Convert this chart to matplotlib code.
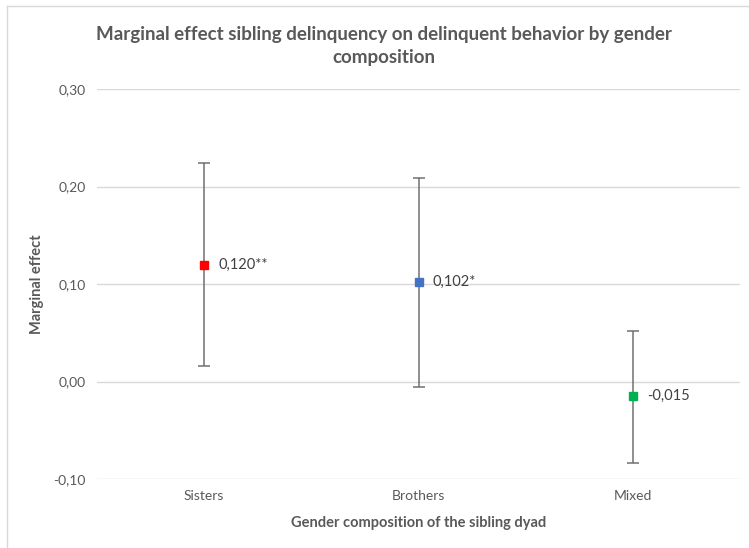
import matplotlib
matplotlib.use("Agg")
import matplotlib.pyplot as plt
from matplotlib.lines import Line2D

categories = ["Sisters", "Brothers", "Mixed"]
effects = [0.120, 0.102, -0.015]
ci_low = [0.016, -0.006, -0.084]
ci_high = [0.224, 0.209, 0.052]
labels = ["0,120**", "0,102*", "-0,015"]
colors = ["#FF0000", "#4472C4", "#00B050"]
yticks = [-0.10, 0.00, 0.10, 0.20, 0.30]
ytick_labels = ["-0,10", "0,00", "0,10", "0,20", "0,30"]

plt.rcParams['font.family'] = ['Lato', 'DejaVu Sans']
txt = "#595959"

fig = plt.figure(figsize=(7.49, 5.48), dpi=100)
ax = fig.add_axes([97/749, 69/548, 643/749, 390/548])

x = list(range(len(categories)))
for i in x:
    ax.errorbar(i, effects[i],
                yerr=[[effects[i] - ci_low[i]], [ci_high[i] - effects[i]]],
                fmt='none', ecolor="#707070", elinewidth=1.1, capsize=4, capthick=1.1, zorder=2)
    ax.plot(i, effects[i], marker='s', markersize=6, color=colors[i], linestyle='none', zorder=3)
    ax.annotate(labels[i], (i, effects[i]), xytext=(10, 0), textcoords='offset points',
                va='center', ha='left', fontsize=10.5, color="#404040")

ax.set_xlim(-0.5, 2.5)
ax.set_ylim(-0.10, 0.30)
ax.set_yticks(yticks)
ax.set_yticklabels(ytick_labels)
ax.set_xticks(x)
ax.set_xticklabels(categories)
ax.tick_params(axis='both', length=0, labelsize=10, labelcolor=txt, pad=8)
ax.tick_params(axis='x', pad=8)
ax.yaxis.grid(True, color="#D9D9D9", linewidth=1)
ax.set_axisbelow(True)
for s in ax.spines.values():
    s.set_visible(False)

ax.set_ylabel("Marginal effect", fontsize=10.5, fontweight='bold', color=txt, labelpad=7)
ax.set_xlabel("Gender composition of the sibling dyad", fontsize=10.5, fontweight='bold', color=txt, labelpad=10)

fig.text(384/749, 1 - 46/548, "Marginal effect sibling delinquency on delinquent behavior by gender\ncomposition",
         ha='center', va='center', fontsize=13.5, fontweight='bold', color=txt, linespacing=1.45)

fig.add_artist(Line2D([7/749, 7/749], [0, 1 - 6/548], color="#D9D9D9", linewidth=1, transform=fig.transFigure))
fig.add_artist(Line2D([7/749, 1], [1 - 6/548, 1 - 6/548], color="#D9D9D9", linewidth=1, transform=fig.transFigure))

fig.savefig("out.png", dpi=100, facecolor="white")
